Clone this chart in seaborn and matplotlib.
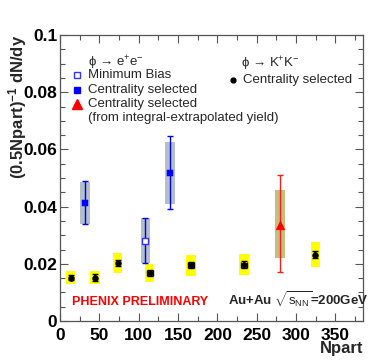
"""
phi meson yield per participant pair vs Npart (PHENIX preliminary).
"""

import matplotlib
matplotlib.use("Agg")
import matplotlib.pyplot as plt
import seaborn as sns
import numpy as np
import pandas as pd
from matplotlib.ticker import MultipleLocator, FixedFormatter, FixedLocator

# phi -> K+K-, centrality selected
kk_npart = [13.6, 44.5, 73.3, 114.0, 166.5, 234.0, 324.5]
kk_yield = [0.0152, 0.0152, 0.0202, 0.0168, 0.0195, 0.0197, 0.0232]
kk_stat = [0.0010, 0.0012, 0.0010, 0.0012, 0.0010, 0.0012, 0.0012]
kk_npart_err = [0, 0, 0, 4.0, 4.0, 4.0, 0]
kk_sys = [0.0024, 0.0024, 0.0035, 0.0031, 0.0036, 0.0037, 0.0043]

# phi -> e+e-, centrality selected
ee_npart = [31.8, 139.8]
ee_yield = [0.0414, 0.0519]
ee_stat_lo = [0.0075, 0.0128]
ee_stat_hi = [0.0074, 0.0128]
ee_sys_lo = [0.0074, 0.0110]
ee_sys_hi = [0.0072, 0.0108]

# phi -> e+e-, minimum bias
mb_npart = [108.4]
mb_yield = [0.0281]
mb_stat_lo = [0.0079]
mb_stat_hi = [0.0080]
mb_sys_lo = [0.0079]
mb_sys_hi = [0.0078]

# phi -> e+e-, centrality selected (integral-extrapolated yield)
ex_npart = [279.5]
ex_yield = [0.0337]
ex_stat_lo = [0.0165]
ex_stat_hi = [0.0173]
ex_sys_lo = [0.0116]
ex_sys_hi = [0.0121]

sns.set_style("ticks")
plt.rcParams['font.family'] = ['Liberation Sans', 'DejaVu Sans']
plt.rcParams['mathtext.fontset'] = 'custom'
plt.rcParams['mathtext.rm'] = 'Liberation Sans'
plt.rcParams['mathtext.it'] = 'Liberation Sans:italic'
plt.rcParams['mathtext.bf'] = 'Liberation Sans:bold'

W, H = 374, 361
fig = plt.figure(figsize=(W / 100, H / 100), dpi=100)
ax = fig.add_axes([60 / W, 1 - 321 / H, (363 - 60) / W, (321 - 35) / H])

gray_box = '#b3bfca'
yellow = '#ffff00'
olive = '#c9bd7d'
box_w = 12

# systematic boxes
for x, y, s in zip(kk_npart, kk_yield, kk_sys):
    ax.bar(x, 2 * s, bottom=y - s, width=box_w, color=yellow, linewidth=0, zorder=1)
for x, y, lo, hi in zip(ee_npart + mb_npart, ee_yield + mb_yield,
                        ee_sys_lo + mb_sys_lo, ee_sys_hi + mb_sys_hi):
    ax.bar(x, lo + hi, bottom=y - lo, width=box_w, color=gray_box, linewidth=0, zorder=1)
for x, y, lo, hi in zip(ex_npart, ex_yield, ex_sys_lo, ex_sys_hi):
    ax.bar(x, lo + hi, bottom=y - lo, width=box_w, color=olive, linewidth=0, zorder=1)

# statistical errors
ax.errorbar(kk_npart, kk_yield, yerr=kk_stat, xerr=kk_npart_err, fmt='none',
            ecolor='black', elinewidth=1.2, capsize=2, zorder=2)
ax.errorbar(ee_npart, ee_yield, yerr=[ee_stat_lo, ee_stat_hi], fmt='none',
            ecolor='#0000ee', elinewidth=1.0, capsize=2, zorder=2)
ax.errorbar(mb_npart, mb_yield, yerr=[mb_stat_lo, mb_stat_hi], fmt='none',
            ecolor='#0000ee', elinewidth=1.0, capsize=2, zorder=2)
ax.errorbar(ex_npart, ex_yield, yerr=[ex_stat_lo, ex_stat_hi], fmt='none',
            ecolor='#ee2222', elinewidth=1.0, capsize=2, zorder=2)

# central values
kk_df = pd.DataFrame({'npart': kk_npart, 'y': kk_yield})
ee_df = pd.DataFrame({'npart': ee_npart, 'y': ee_yield})
mb_df = pd.DataFrame({'npart': mb_npart, 'y': mb_yield})
ex_df = pd.DataFrame({'npart': ex_npart, 'y': ex_yield})
sns.scatterplot(data=kk_df, x='npart', y='y', ax=ax, color='black', marker='o',
                s=18, edgecolor='black', zorder=3)
sns.scatterplot(data=ee_df, x='npart', y='y', ax=ax, color='#0000ff', marker='s',
                s=18, edgecolor='#0000ff', zorder=3)
sns.scatterplot(data=mb_df, x='npart', y='y', ax=ax, marker='s', s=18,
                facecolor='white', edgecolor='#3333ff', linewidth=1.0, zorder=3)
sns.scatterplot(data=ex_df, x='npart', y='y', ax=ax, color='#ff0000', marker='^',
                s=38, edgecolor='#ff0000', zorder=3)

ax.set_xlim(0, 385)
ax.set_ylim(0, 0.1)
ax.xaxis.set_major_locator(MultipleLocator(50))
ax.xaxis.set_minor_locator(MultipleLocator(25))
ax.yaxis.set_major_locator(FixedLocator([0, 0.02, 0.04, 0.06, 0.08, 0.1]))
ax.yaxis.set_major_formatter(FixedFormatter(['0', '0.02', '0.04', '0.06', '0.08', '0.1']))
ax.yaxis.set_minor_locator(MultipleLocator(0.005))
ax.tick_params(which='both', direction='in', top=True, right=True, colors='#555555',
               labelcolor='black', width=0.8)
ax.tick_params(which='major', length=6)
ax.tick_params(which='minor', length=3.5)
ax.tick_params(axis='x', pad=5)
ax.tick_params(axis='y', pad=2)
for lab in ax.get_xticklabels() + ax.get_yticklabels():
    lab.set_fontsize(12.5)
    lab.set_fontweight('bold')
for sp in ax.spines.values():
    sp.set_color('#555555')
    sp.set_linewidth(0.9)
ax.set_xlabel('')
ax.set_ylabel('')

fig.text(363 / W, 1 - 349 / H, 'Npart', ha='right', va='center',
         fontsize=12, fontweight='bold')
fig.text(18 / W, 1 - 35 / H, r'(0.5Npart)$^{\mathbf{-1}}$ dN/dy', rotation=90,
         ha='center', va='top', fontsize=12, fontweight='bold')

def fx(px):
    return px / W

def fy(py):
    return 1 - py / H

fs = 9.5
# e+e- legend
fig.text(fx(88), fy(63), 'ϕ → e$^{+}$e$^{-}$', ha='left', va='center', fontsize=fs)
fig.text(fx(88), fy(75), 'Minimum Bias', ha='left', va='center', fontsize=fs)
fig.text(fx(88), fy(90), 'Centrality selected', ha='left', va='center', fontsize=fs)
fig.text(fx(88), fy(104), 'Centrality selected', ha='left', va='center', fontsize=fs)
fig.text(fx(88), fy(118), '(from integral-extrapolated yield)', ha='left',
         va='center', fontsize=fs)
ax.plot([fx(77)], [fy(75)], marker='s', ms=4.5, mfc='white', mec='#3333ff',
        transform=fig.transFigure, clip_on=False)
ax.plot([fx(77)], [fy(90)], marker='s', ms=4.5, color='#0000ff',
        transform=fig.transFigure, clip_on=False)
ax.plot([fx(77)], [fy(104)], marker='^', ms=6.5, color='#ff0000',
        transform=fig.transFigure, clip_on=False)

# K+K- legend
fig.text(fx(241), fy(64), 'ϕ → K$^{+}$K$^{-}$', ha='left', va='center', fontsize=fs)
fig.text(fx(243), fy(80), 'Centrality selected', ha='left', va='center', fontsize=fs)
ax.plot([fx(233)], [fy(80)], marker='o', ms=3.5, color='black',
        transform=fig.transFigure, clip_on=False)

fig.text(fx(72), fy(302), 'PHENIX PRELIMINARY', ha='left', va='center',
         fontsize=9, fontweight='bold', color='#ff0000')
fig.text(fx(228), fy(300), r'Au+Au $\sqrt{\mathrm{s_{NN}}}$=200GeV', ha='left',
         va='center', fontsize=9.5, fontweight='bold')

fig.savefig('out.png', dpi=100)
